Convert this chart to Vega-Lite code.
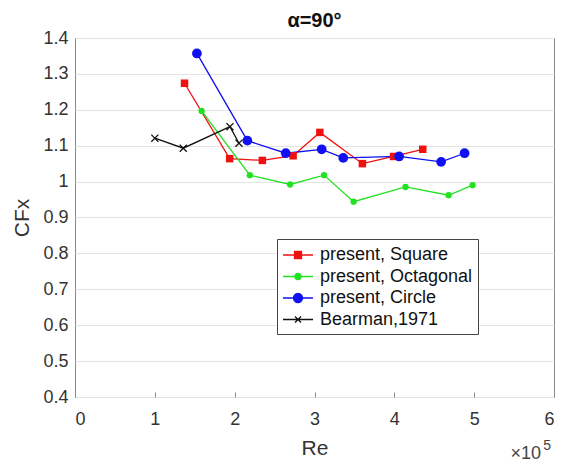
{
  "$schema": "https://vega.github.io/schema/vega-lite/v6.json",
  "width": 479,
  "height": 359,
  "autosize": {"type": "none"},
  "padding": {"left": 75, "top": 38, "right": 12, "bottom": 65},
  "background": "white",
  "title": {"text": "α=90°", "fontSize": 20, "fontWeight": "bold", "font": "Liberation Sans", "color": "#111", "anchor": "middle", "frame": "group", "baseline": "top", "offset": 16, "dy": 18},
  "config": {
    "view": {"stroke": "#8a8a8a", "strokeWidth": 1},
    "font": "Liberation Sans",
    "axis": {"labelFont": "Liberation Sans", "titleFont": "Liberation Sans", "labelFontSize": 18, "titleFontSize": 21, "titleFontWeight": "normal", "labelColor": "#333", "titleColor": "#333", "domain": false, "labelOverlap": false},
    "legend": {"labelFont": "Liberation Sans"}
  },
  "data": {"values": [
    {"s": "present, Square", "Re": 137200, "CFx": 1.274},
    {"s": "present, Square", "Re": 193700, "CFx": 1.064},
    {"s": "present, Square", "Re": 234700, "CFx": 1.059},
    {"s": "present, Square", "Re": 273200, "CFx": 1.072},
    {"s": "present, Square", "Re": 306700, "CFx": 1.137},
    {"s": "present, Square", "Re": 360000, "CFx": 1.050},
    {"s": "present, Square", "Re": 399000, "CFx": 1.070},
    {"s": "present, Square", "Re": 435600, "CFx": 1.090},
    {"s": "present, Octagonal", "Re": 158600, "CFx": 1.197},
    {"s": "present, Octagonal", "Re": 219000, "CFx": 1.018},
    {"s": "present, Octagonal", "Re": 269500, "CFx": 0.992},
    {"s": "present, Octagonal", "Re": 312000, "CFx": 1.018},
    {"s": "present, Octagonal", "Re": 349000, "CFx": 0.944},
    {"s": "present, Octagonal", "Re": 414000, "CFx": 0.985},
    {"s": "present, Octagonal", "Re": 468000, "CFx": 0.962},
    {"s": "present, Octagonal", "Re": 498000, "CFx": 0.990},
    {"s": "present, Circle", "Re": 152700, "CFx": 1.357},
    {"s": "present, Circle", "Re": 215900, "CFx": 1.114},
    {"s": "present, Circle", "Re": 264000, "CFx": 1.079},
    {"s": "present, Circle", "Re": 309000, "CFx": 1.090},
    {"s": "present, Circle", "Re": 336000, "CFx": 1.066},
    {"s": "present, Circle", "Re": 406000, "CFx": 1.070},
    {"s": "present, Circle", "Re": 458600, "CFx": 1.055},
    {"s": "present, Circle", "Re": 488000, "CFx": 1.079},
    {"s": "Bearman,1971", "Re": 100000, "CFx": 1.121},
    {"s": "Bearman,1971", "Re": 135600, "CFx": 1.093},
    {"s": "Bearman,1971", "Re": 194100, "CFx": 1.153},
    {"s": "Bearman,1971", "Re": 205400, "CFx": 1.107}
  ]},
  "encoding": {
    "x": {"field": "Re", "type": "quantitative", "scale": {"domain": [0, 600000], "nice": false},
          "axis": {"title": "Re", "values": [0, 100000, 200000, 300000, 400000, 500000, 600000], "tickCount": 20, "labelExpr": "format(datum.value / 100000, '~g')", "grid": false, "tickSize": -5, "tickColor": "#8a8a8a", "labelPadding": 18, "titlePadding": 9}},
    "y": {"field": "CFx", "type": "quantitative", "scale": {"domain": [0.4, 1.4], "nice": false, "zero": false},
          "axis": {"title": "CFx", "values": [0.4, 0.5, 0.6, 0.7, 0.8, 0.9, 1, 1.1, 1.2, 1.3, 1.4], "tickCount": 20, "labelExpr": "format(datum.value, '.1~f')", "grid": true, "gridColor": "#e3e3e3", "ticks": false, "labelPadding": 7, "titlePadding": 10}},
    "color": {"field": "s", "type": "nominal",
              "scale": {"domain": ["present, Square", "present, Octagonal", "present, Circle", "Bearman,1971"], "range": ["#f01010", "#22e022", "#1010f0", "#111111"]},
              "legend": {"title": null, "orient": "none", "legendX": 202, "legendY": 201, "labelFontSize": 18, "labelColor": "#111", "symbolSize": 400, "symbolStrokeWidth": 1.3, "padding": 5, "rowPadding": 1.5, "symbolOffset": 5, "labelOffset": 11, "strokeColor": "#444", "fillColor": "white",
                         "encode": {"symbols": {"update": {
                           "shape": {"signal": "datum.value === 'present, Square' ? 'M-1.5,0H1.5M-0.35,-0.35H0.35V0.35H-0.35Z' : datum.value === 'present, Octagonal' ? 'M-1.5,0H1.5M-0.3,0A0.3,0.3 0 1,1 0.3,0A0.3,0.3 0 1,1 -0.3,0Z' : datum.value === 'present, Circle' ? 'M-1.5,0H1.5M-0.45,0A0.45,0.45 0 1,1 0.45,0A0.45,0.45 0 1,1 -0.45,0Z' : 'M-1.5,0H1.5M-0.3,-0.3L0.3,0.3M-0.3,0.3L0.3,-0.3'"},
                           "fill": {"signal": "datum.value === 'Bearman,1971' ? 'transparent' : scale('color', datum.value)"},
                           "stroke": {"signal": "scale('color', datum.value)"},
                           "strokeWidth": {"value": 1.3},
                           "opacity": {"value": 1}
                         }}}}}
  },
  "layer": [
    {"mark": {"type": "line", "strokeWidth": 1.3}},
    {"transform": [{"filter": "datum.s === 'present, Square'"}],
     "mark": {"type": "point", "shape": "square", "filled": true, "size": 56, "opacity": 1}},
    {"transform": [{"filter": "datum.s === 'present, Octagonal'"}],
     "mark": {"type": "point", "shape": "circle", "filled": true, "size": 40, "opacity": 1}},
    {"transform": [{"filter": "datum.s === 'present, Circle'"}],
     "mark": {"type": "point", "shape": "circle", "filled": true, "size": 95, "opacity": 1}},
    {"transform": [{"filter": "datum.s === 'Bearman,1971'"}],
     "mark": {"type": "point", "shape": "M-1,-1L1,1M-1,1L1,-1", "filled": false, "size": 50, "strokeWidth": 1.3, "opacity": 1}},
    {
      "data": {"values": [{"label": "×10", "Re": 600000, "CFx": 0.4}]},
      "mark": {"type": "text", "align": "right", "baseline": "middle", "dy": 57, "dx": -13, "fontSize": 18, "font": "Liberation Sans", "color": "#444"},
      "encoding": {"text": {"field": "label"}, "color": {"value": "#444"}}
    },
    {
      "data": {"values": [{"label": "5", "Re": 600000, "CFx": 0.4}]},
      "mark": {"type": "text", "align": "right", "baseline": "middle", "dy": 49, "dx": -3, "fontSize": 14, "font": "Liberation Sans", "color": "#444"},
      "encoding": {"text": {"field": "label"}, "color": {"value": "#444"}}
    }
  ]
}
